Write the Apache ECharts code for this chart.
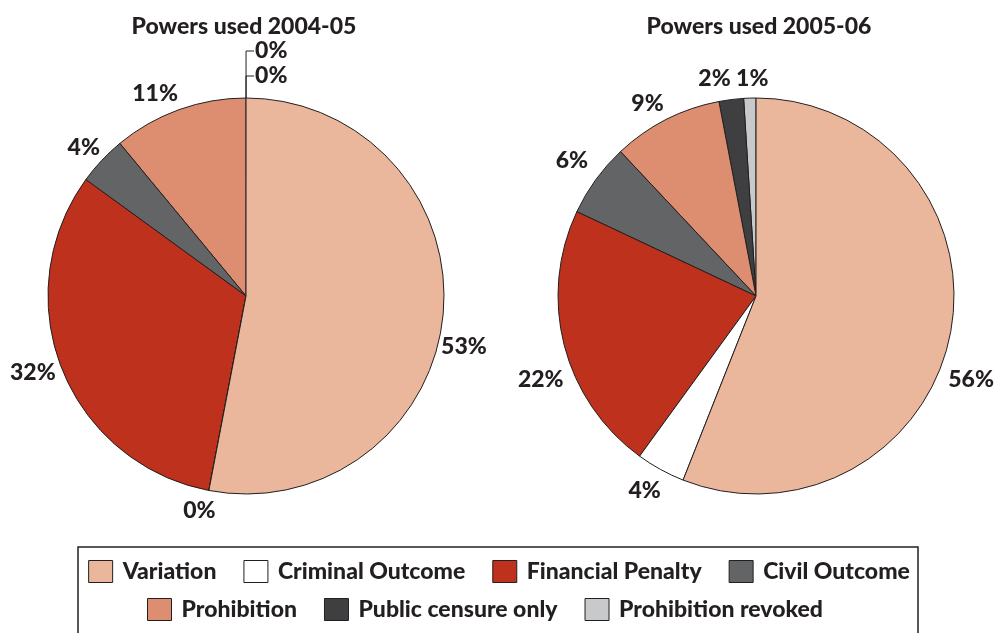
<!DOCTYPE html>
<html>
<head>
<meta charset="utf-8">
<script src="https://cdn.jsdelivr.net/npm/echarts@6/dist/echarts.min.js"></script>
<style>
  html, body { margin: 0; padding: 0; background: #fff; }
  #chart { width: 998px; height: 633px; }
</style>
</head>
<body>
<div id="chart"></div>
<script>
// categories in the order they run clockwise from 12 o'clock
const categories = ['Variation', 'Criminal Outcome', 'Financial Penalty', 'Civil Outcome',
  'Prohibition', 'Public censure only', 'Prohibition revoked'];
const colors = ['#EAB79C', '#FFFFFF', '#BE311C', '#636466', '#DE8E70', '#3F3F41', '#C8C9CB'];

const values2004 = [53, 0, 32, 4, 11, 0, 0];
const values2005 = [56, 4, 22, 6, 9, 2, 1];
const titles = ['Powers used 2004-05', 'Powers used 2005-06'];

const INK = '#231f20';
const FONT = 'Lato, "Noto Sans", sans-serif';

// zero slices that sit on top of the first pie get a leader line
const topLeaders = { 'Public censure only': 22, 'Prohibition revoked': 47 };

// small hand nudges so the % labels sit where the original put them
const labelNudge = [
  { 'Prohibition': [6, -5], 'Civil Outcome': [10, -5], 'Financial Penalty': [8, -1],
    'Criminal Outcome': [12, 8], 'Variation': [-17, 31] },
  { 'Prohibition': [6, -5], 'Civil Outcome': [5, -12], 'Financial Penalty': [14, 31],
    'Criminal Outcome': [9, 11], 'Variation': [-17, 44],
    'Public censure only': [4, -9], 'Prohibition revoked': [22, -8] }
];

function buildData(values, withLeaders) {
  // drawn counter-clockwise, so feed the items reversed
  const items = categories.map((name, i) => {
    const item = { name, value: values[i], itemStyle: { color: colors[i] } };
    if (withLeaders && topLeaders[name] !== undefined) {
      item.labelLine = { show: true, length: topLeaders[name], length2: 8,
        lineStyle: { color: INK, width: 1 } };
      item.label = { distanceToLabelLine: 1 };
    }
    return item;
  });
  return items.reverse();
}

function pieSeries(values, center, idx, withLeaders) {
  const data = buildData(values, withLeaders);
  return {
    type: 'pie',
    center,
    radius: 198,
    // a hair under 90 so the zero slices at 12 o'clock put their labels to the right
    startAngle: 89.99,
    clockwise: false,
    avoidLabelOverlap: false,
    animation: false,
    silent: true,
    itemStyle: { borderColor: INK, borderWidth: 1 },
    label: {
      show: true,
      position: 'outside',
      formatter: '{c}%',
      color: INK,
      fontFamily: FONT,
      fontWeight: 900,
      fontSize: 23,
      distanceToLabelLine: 3
    },
    labelLine: { show: false, length: 12, length2: 0 },
    labelLayout: function (params) {
      const name = data[params.dataIndex].name;
      const n = labelNudge[idx][name];
      if (!n) return { hideOverlap: false };
      return { dx: n[0], dy: n[1], hideOverlap: false };
    },
    emphasis: { disabled: true },
    data
  };
}

const chart = echarts.init(document.getElementById('chart'));

const legendText = { color: INK, fontFamily: FONT, fontWeight: 900, fontSize: 23, padding: [0, 0, 0, 5] };
const legendBase = {
  orient: 'horizontal',
  itemWidth: 24,
  itemHeight: 22,
  itemGap: 27,
  icon: 'rect',
  selectedMode: false,
  itemStyle: { borderColor: INK, borderWidth: 1 },
  textStyle: legendText
};

const titleText = { color: INK, fontFamily: FONT, fontWeight: 900, fontSize: 23 };

chart.setOption({
  backgroundColor: '#fff',
  title: [
    { text: titles[0], left: 239, top: 10, textAlign: 'center', textStyle: titleText },
    { text: titles[1], left: 754, top: 10, textAlign: 'center', textStyle: titleText }
  ],
  legend: [
    Object.assign({}, legendBase, { left: 'center', top: 555, data: categories.slice(0, 4) }),
    Object.assign({}, legendBase, { left: 142, top: 593, data: categories.slice(4) })
  ],
  graphic: [{
    type: 'rect',
    shape: { x: 78, y: 547, width: 840, height: 100 },
    style: { fill: 'none', stroke: INK, lineWidth: 1.5 },
    silent: true
  }],
  series: [
    pieSeries(values2004, [246, 296], 0, true),
    pieSeries(values2005, [756, 296], 1, false)
  ]
});
</script>
</body>
</html>
